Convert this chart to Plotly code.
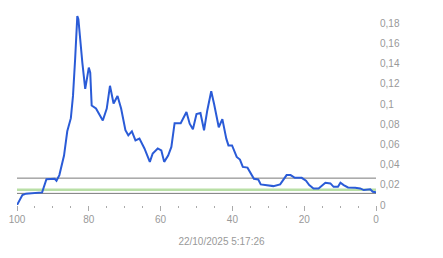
import plotly.graph_objects as go

x_vals = [100, 98.5, 97.5, 95, 93, 91.8, 89.5, 89.0, 88.2, 86.9, 86.0, 85.0, 84.4, 83.8, 83.2, 82.9,
          82.5, 81.8, 81.0, 80.6, 80.0, 79.6, 79.2, 78.0, 76.1, 75.0, 74.1, 73.1, 72.0, 71.0, 69.8,
          69.0, 68.0, 67.0, 65.9, 64.5, 63.0, 62.2, 60.8, 59.8, 59.0, 57.9, 57.0, 56.1, 54.4, 52.8,
          51.9, 51.0, 50.0, 48.9, 47.9, 47.0, 45.9, 45.1, 43.8, 42.8, 41.7, 41.1, 40.1, 38.8, 37.9,
          37.1, 35.8, 34.0, 32.8, 32.1, 30.0, 28.6, 26.7, 24.9, 23.8, 22.6, 20.7, 19.5, 18.6, 17.4,
          16.0, 14.1, 12.7, 11.8, 10.6, 9.9, 9.0, 7.8, 5.8, 4.4, 3.4, 2.5, 1.6, 0.9, 0.0]
y_vals = [0.000, 0.0098, 0.0112, 0.0118, 0.0125, 0.0256, 0.026, 0.024, 0.0296, 0.049, 0.073, 0.086,
          0.108, 0.145, 0.187, 0.184, 0.167, 0.141, 0.115, 0.125, 0.136, 0.131, 0.0985, 0.0955,
          0.0837, 0.0955, 0.118, 0.1005, 0.108, 0.0955, 0.074, 0.069, 0.073, 0.064, 0.0657, 0.056,
          0.0427, 0.051, 0.056, 0.054, 0.0427, 0.049, 0.0575, 0.081, 0.081, 0.092, 0.0805, 0.075,
          0.090, 0.091, 0.074, 0.0936, 0.1126, 0.100, 0.077, 0.085, 0.0657, 0.059, 0.059, 0.0476,
          0.045, 0.0377, 0.037, 0.026, 0.0253, 0.0204, 0.0197, 0.0187, 0.0204, 0.0296, 0.0296,
          0.027, 0.0269, 0.024, 0.0197, 0.0164, 0.0164, 0.022, 0.0214, 0.018, 0.018, 0.022, 0.0197,
          0.0174, 0.017, 0.0164, 0.0148, 0.0148, 0.0155, 0.0131, 0.0125]

upper_level = 0.0266
mid_level = 0.0151
lower_level = 0.0115

x_ticks = [100, 80, 60, 40, 20, 0]
y_ticks = [0, 0.02, 0.04, 0.06, 0.08, 0.1, 0.12, 0.14, 0.16, 0.18]
title_text = "22/10/2025 5:17:26"

fig = go.Figure()
fig.add_trace(go.Scatter(x=x_vals, y=y_vals, mode="lines",
                         line=dict(color="#2a5bd7", width=2), hoverinfo="skip",
                         showlegend=False))

for lvl, col, w in [(upper_level, "#7a7a7a", 1), (mid_level, "#b9dfa6", 2.5), (lower_level, "#7a7a7a", 1)]:
    fig.add_shape(type="line", xref="paper", x0=0, x1=1, yref="y", y0=lvl, y1=lvl,
                  line=dict(color=col, width=w), layer="below")

fig.update_layout(
    width=443, height=258,
    margin=dict(l=17, r=66.5, t=3, b=53),
    paper_bgcolor="white", plot_bgcolor="white",
    separators=", ",
    font=dict(family="Liberation Sans, Arial, sans-serif", size=10, color="#999999"),
    title=dict(text=title_text, xref="container", yref="container", x=0.5, y=1 - 241 / 258,
               xanchor="center", yanchor="middle", font=dict(size=10, color="#999999")),
    xaxis=dict(range=[100, 0], tickvals=x_ticks, ticks="outside", ticklen=5, tickcolor="#aaaaaa",
               tickwidth=1, showgrid=False, zeroline=False, showline=False,
               minor=dict(dtick=5, ticks="outside", ticklen=2, tickcolor="#aaaaaa", showgrid=False)),
    yaxis=dict(range=[0, 0.2], side="right", tickvals=y_ticks, ticks="", showgrid=False,
               zeroline=False, showline=False, ticklabelstandoff=3),
)

fig.write_html("out.html")
